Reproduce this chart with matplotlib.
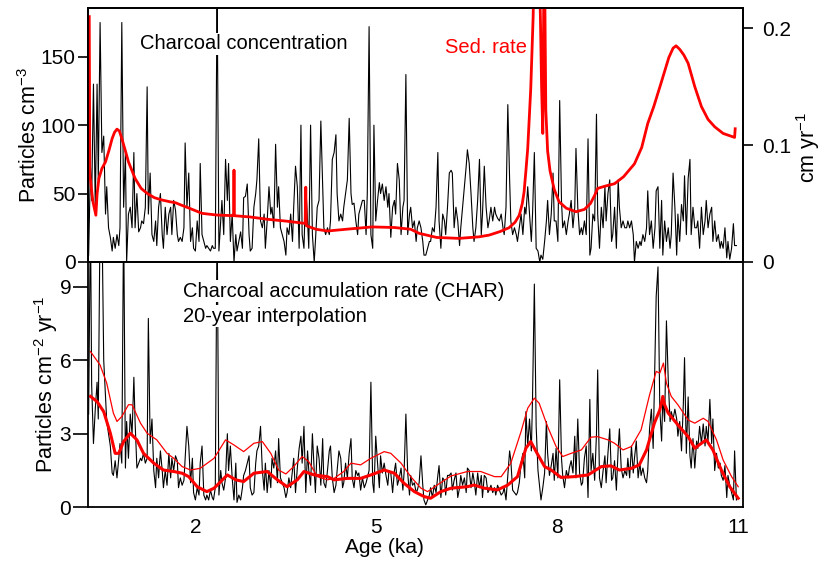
import matplotlib
matplotlib.use("Agg")
import matplotlib.pyplot as plt

plt.rcParams['font.family'] = ['Liberation Sans', 'DejaVu Sans']
plt.rcParams['mathtext.fontset'] = 'custom'
plt.rcParams['mathtext.rm'] = 'Liberation Sans'
plt.rcParams['mathtext.it'] = 'Liberation Sans:italic'
plt.rcParams['mathtext.default'] = 'regular'

# ---------------- data ----------------
age = [
    0.23, 0.26, 0.28, 0.31, 0.34, 0.37, 0.39, 0.42, 0.45, 0.48,
    0.51, 0.53, 0.56, 0.59, 0.62, 0.64, 0.67, 0.70, 0.73, 0.75,
    0.78, 0.81, 0.84, 0.86, 0.89, 0.92, 0.95, 0.98, 1.00, 1.03,
    1.06, 1.09, 1.11, 1.14, 1.17, 1.20, 1.22, 1.25, 1.28, 1.31,
    1.34, 1.36, 1.39, 1.42, 1.45, 1.47, 1.50, 1.53, 1.56, 1.59,
    1.61, 1.64, 1.67, 1.70, 1.72, 1.75, 1.78, 1.81, 1.83, 1.86,
    1.89, 1.92, 1.95, 1.97, 2.00, 2.03, 2.06, 2.08, 2.11, 2.14,
    2.17, 2.19, 2.22, 2.25, 2.28, 2.30, 2.33, 2.36, 2.39, 2.42,
    2.44, 2.47, 2.50, 2.53, 2.55, 2.58, 2.61, 2.64, 2.67, 2.69,
    2.72, 2.75, 2.78, 2.80, 2.83, 2.86, 2.89, 2.91, 2.94, 2.97,
    3.00, 3.02, 3.05, 3.08, 3.11, 3.14, 3.16, 3.19, 3.22, 3.25,
    3.27, 3.30, 3.33, 3.36, 3.38, 3.41, 3.44, 3.47, 3.50, 3.52,
    3.55, 3.58, 3.61, 3.63, 3.66, 3.69, 3.72, 3.75, 3.77, 3.80,
    3.83, 3.86, 3.88, 3.91, 3.94, 3.97, 3.99, 4.02, 4.05, 4.08,
    4.11, 4.13, 4.16, 4.19, 4.22, 4.24, 4.27, 4.30, 4.33, 4.35,
    4.38, 4.41, 4.44, 4.46, 4.49, 4.52, 4.55, 4.58, 4.60, 4.63,
    4.66, 4.69, 4.71, 4.74, 4.77, 4.80, 4.83, 4.85, 4.88, 4.91,
    4.94, 4.96, 4.99, 5.02, 5.05, 5.07, 5.10, 5.13, 5.16, 5.19,
    5.21, 5.24, 5.27, 5.30, 5.32, 5.35, 5.38, 5.41, 5.44, 5.46,
    5.49, 5.52, 5.55, 5.57, 5.60, 5.63, 5.66, 5.68, 5.71, 5.74,
    5.77, 5.79, 5.82, 5.85, 5.88, 5.90, 5.93, 5.96, 5.99, 6.02,
    6.04, 6.07, 6.10, 6.13, 6.15, 6.18, 6.21, 6.24, 6.26, 6.29,
    6.32, 6.35, 6.38, 6.40, 6.43, 6.46, 6.49, 6.51, 6.54, 6.57,
    6.60, 6.62, 6.65, 6.68, 6.71, 6.74, 6.76, 6.79, 6.82, 6.85,
    6.87, 6.90, 6.93, 6.96, 6.98, 7.01, 7.04, 7.07, 7.10, 7.12,
    7.15, 7.18, 7.21, 7.23, 7.26, 7.29, 7.32, 7.34, 7.37, 7.40,
    7.43, 7.46, 7.48, 7.51, 7.54, 7.57, 7.59, 7.62, 7.65, 7.68,
    7.71, 7.73, 7.76, 7.79, 7.82, 7.84, 7.87, 7.90, 7.93, 7.95,
    7.98, 8.01, 8.04, 8.07, 8.09, 8.12, 8.15, 8.18, 8.20, 8.23,
    8.26, 8.29, 8.31, 8.34, 8.37, 8.40, 8.42, 8.45, 8.48, 8.51,
    8.54, 8.56, 8.59, 8.62, 8.65, 8.67, 8.70, 8.73, 8.76, 8.79,
    8.81, 8.84, 8.87, 8.90, 8.92, 8.95, 8.98, 9.01, 9.03, 9.06,
    9.09, 9.12, 9.15, 9.17, 9.20, 9.23, 9.26, 9.28, 9.31, 9.34,
    9.37, 9.39, 9.42, 9.45, 9.48, 9.50, 9.53, 9.56, 9.59, 9.62,
    9.64, 9.67, 9.70, 9.73, 9.75, 9.78, 9.81, 9.84, 9.87, 9.89,
    9.92, 9.95, 9.98, 10.00, 10.03, 10.06, 10.09, 10.11, 10.14, 10.17,
    10.20, 10.22, 10.25, 10.28, 10.31, 10.33, 10.36, 10.39, 10.42, 10.45,
    10.47, 10.50, 10.53, 10.56, 10.58, 10.61, 10.64, 10.67, 10.70, 10.72,
    10.75, 10.78, 10.81, 10.83, 10.86, 10.89, 10.92, 10.94, 10.97,
]

# charcoal concentration (particles cm-3)
concentration = [
    5, 70, 45, 130, 40, 130, 60, 175, 80, 92,
    35, 55, 25, 18, 8, 18, 10, 20, 12, 25,
    175, 40, 80, 0, 35, 40, 25, 80, 25, 50,
    22, 25, 30, 28, 40, 128, 35, 65, 20, 15,
    30, 12, 40, 50, 20, 10, 40, 20, 35, 40,
    20, 45, 38, 20, 15, 18, 15, 25, 87, 40,
    65, 15, 25, 10, 8, 30, 15, 72, 20, 15,
    10, 12, 10, 8, 12, 10, 10, 200, 8, 30,
    45, 20, 75, 45, 72, 15, 35, 0, 20, 8,
    15, 22, 10, 47, 48, 57, 20, 8, 10, 40,
    50, 60, 90, 30, 25, 35, 10, 30, 55, 35,
    40, 25, 86, 40, 55, 25, 20, 15, 5, 25,
    20, 35, 15, 40, 70, 55, 10, 100, 20, 10,
    55, 30, 10, 100, 20, 0, 15, 40, 45, 103,
    55, 25, 20, 25, 20, 30, 75, 80, 93, 50,
    30, 35, 30, 40, 50, 60, 105, 50, 42, 43,
    30, 20, 35, 40, 45, 45, 20, 50, 172, 20,
    10, 100, 30, 45, 58, 50, 57, 45, 55, 40,
    50, 18, 40, 45, 35, 72, 60, 20, 40, 45,
    137, 20, 35, 40, 25, 30, 15,
    25, 30, 25, 15, 5, 5, 10, 15, 15, 25,
    22, 40, 80, 30, 10, 35, 30, 20, 40, 65,
    67, 65, 25, 40, 30, 12, 25, 40, 55, 70,
    82, 72, 50, 25, 15, 25, 45, 75, 20, 35,
    70, 40, 25, 30, 40, 30, 40, 35, 32, 30,
    35, 25, 20, 40, 115, 60, 30, 20, 25, 20,
    15, 25, 35, 20, 40, 35, 55, 35, 15, 35,
    80, 10, 8, 0, 5, 2, 15, 30, 45, 20,
    35, 65, 30, 30, 15, 118, 45, 25, 30, 20,
    30, 35, 45, 25, 40, 83, 40, 20, 25, 20,
    30, 20, 90, 5, 10, 35, 30, 108, 35, 10,
    40, 25, 55, 30, 50, 60, 15, 20, 40, 10,
    60, 40, 25, 30, 25, 25, 30, 25, 30, 20,
    0, 15, 10, 15, 12, 20, 15, 25, 52, 20,
    30, 10, 25, 52, 55, 10, 45, 5, 30, 15,
    25, 10, 20, 65, 40, 5, 35, 15, 42, 30,
    63, 20, 61, 75, 20, 40, 25, 25, 30, 10,
    40, 20, 30, 45, 25, 35, 40, 15, 30, 15,
    20, 10, 15, 10, 25, 3, 15, 2, 10, 28,
    12, 12,
]

# charcoal accumulation rate (particles cm-2 yr-1)
char = [
    3.8, 12, 5, 2.6, 4, 5.1, 3.6, 12, 12, 6,
    4.5, 3.5, 3, 2.5, 1.4, 1.3, 1.9, 1.2, 2, 2.6,
    1.8, 12, 1.6, 3.5, 2, 3.8, 3, 5.3, 3.5, 1.6,
    1.8, 2, 1.9, 2.2, 1.8, 2, 7.7, 2.6, 3.6, 1.5,
    0.8, 2, 1.2, 2.3, 1.5, 0.8, 1.5, 0.9, 2.2, 1.2,
    2, 1.5, 2.1, 1.9, 0.8, 1.2, 0.9, 1.1, 2, 3.3,
    2.5, 1, 2, 0.6, 0.3, 0.8, 0.5, 1.8, 2.5, 0.5,
    0.3, 0.5, 0.3, 0.7, 0.4, 0.3, 0.8, 12, 0.5, 1.5,
    1, 0.7, 1.2, 3, 1.5, 2.5, 1.2, 0.3, 1.8, 0.2,
    0.5, 0.3, 0.8, 1.3, 1.5, 1.8, 2.1, 0.8, 0.5, 0.6,
    1.8, 2.3, 2.5, 3.3, 1.5, 0.7, 1.8, 0.6, 1.5, 0.8,
    2, 1.6, 2.3, 1, 2.8, 1.2, 1, 0.8, 0.4, 0.6,
    1.2, 0.8, 1.5, 2, 0.6, 1.6, 2.4, 2.9, 1.8, 3.3,
    0.6, 2.3, 1.5, 0.9, 3, 1.5, 0.6, 2.5, 2, 0.9,
    2.8, 1, 0.8, 1.5, 2.3, 2.5, 1.2, 0.6, 0.9, 1.5,
    2.3, 2, 0.8, 1, 1.8, 1.2, 2.2, 2.8, 1.2, 0.8,
    1.5, 1.3, 1.4, 0.7, 1.2, 0.8, 1, 1.2, 1.5, 5.1,
    1, 0.6, 2.9, 1.8, 0.8, 2.1, 1.4, 1.8, 1.3, 0.9,
    1.5, 1.4, 0.6, 1.5, 1.8, 0.9, 1.2, 1.6, 0.7, 1.4,
    3.8, 1.4, 0.5, 1.3, 0.9, 1, 0.6,
    0.7, 1, 2.1, 0.9, 0.3, 0.1, 0.3, 0.5, 0.8, 0.4,
    0.9, 0.6, 1.3, 1.7, 0.4, 1.2, 1.1, 0.5, 1.3, 1.3,
    1.4, 0.7, 1.1, 1.4, 0.4, 0.8, 1.3, 0.9, 1.2, 0.6,
    1.6, 1.5, 0.8, 1.4, 1.1, 0.5, 1.4, 0.8, 1.3, 0.4,
    1.3, 1.2, 0.6, 0.7, 0.9, 0.6, 0.8, 0.5, 0.9, 0.7,
    0.5, 0.6, 0.8, 0.3, 1.3, 2.3, 1.9, 0.7, 0.6, 0.5,
    0.6, 1, 1.8, 2.2, 1.2, 3.9, 2.5, 3.6, 2.3, 4.5,
    9.1, 3.3, 1.5, 0.8, 0.3, 0.8, 1.4, 3.5, 2.2, 1.3,
    1.7, 2.2, 1.1, 2.4, 1.2, 5.2, 2, 1.3, 0.8, 1.5,
    1.2, 1.6, 1.9, 1.4, 2.9, 1.2, 3.6, 1.4, 0.9, 1,
    2, 2.5, 0.4, 4.4, 1.5, 2.2, 1.1, 3, 5.6, 1.2,
    0.8, 1.5, 2.1, 1, 2.2, 3.2, 1.1, 1.2, 1.9, 0.7,
    2.4, 3.2, 1.6, 1.2, 1.5, 1.3, 2, 1.2, 2.5, 1.4,
    2, 2.7, 1.2, 1.8, 1.3, 1.6, 1.2, 1, 1.5, 3.2,
    4, 2.4, 6.2, 8.6, 9.8, 4, 2.7, 4.5, 3.5, 7.6,
    5.2, 3.5, 3.9, 3.6, 4, 3.6, 2.9, 3.5, 2.3, 4.2,
    6.1, 2.2, 4.5, 2.1, 1.6, 2.8, 1.6, 2.7, 2.4, 3.3,
    2.6, 3.4, 2.5, 3.3, 2.7, 4.4, 2.6, 3.6, 1.5, 2.2,
    1.6, 1.8, 1.3, 1.1, 1.7, 0.4, 1.3, 0.9, 0.6, 0.3,
    2.3, 0.3,
]

# sedimentation rate (cm yr-1)
sed_age = [0.24, 0.25, 0.30, 0.35, 0.37, 0.40, 0.45, 0.51, 0.57, 0.62,
           0.66, 0.70, 0.74, 0.78, 0.84, 0.89, 1.00, 1.10, 1.20, 1.32,
           1.45, 1.58, 1.67, 1.75, 1.90, 2.11, 2.35, 2.635, 2.64, 2.645,
           2.91, 3.20, 3.50, 3.82, 3.83, 3.84, 4.00, 4.19, 4.50, 4.93,
           5.30, 5.57, 5.71, 6.00, 6.37, 6.70, 6.87, 7.05, 7.20, 7.30,
           7.37, 7.42, 7.45, 7.48, 7.51, 7.56, 7.60, 7.63, 7.68, 7.72,
           7.74, 7.76, 7.775, 7.785, 7.795, 7.81, 7.84, 7.88, 7.95, 8.03,
           8.15, 8.31, 8.45, 8.55, 8.62, 8.67, 8.80, 8.95, 9.10, 9.28,
           9.40, 9.50, 9.60, 9.72, 9.85, 9.92, 9.97, 10.03, 10.10, 10.17,
           10.28, 10.39, 10.50, 10.61, 10.75, 10.94, 10.95]
sed_rate = [0.210, 0.075, 0.052, 0.040, 0.058, 0.0715, 0.080, 0.0857, 0.096, 0.1057,
            0.111, 0.1137, 0.112, 0.1057, 0.095, 0.0857, 0.0715, 0.063, 0.0587, 0.055,
            0.053, 0.0515, 0.0507, 0.049, 0.046, 0.0416, 0.0402, 0.0396, 0.0786, 0.0396,
            0.0385, 0.0365, 0.035, 0.033, 0.064, 0.031, 0.028, 0.0265, 0.028, 0.030,
            0.0295, 0.028, 0.0245, 0.021, 0.0202, 0.0215, 0.023, 0.026, 0.0293, 0.034,
            0.040, 0.050, 0.060, 0.078, 0.097, 0.148, 0.21, 0.30, 0.30, 0.21,
            0.15, 0.11, 0.22, 0.30, 0.22, 0.13, 0.095, 0.078, 0.062, 0.0515,
            0.046, 0.043, 0.045, 0.050, 0.057, 0.063, 0.065, 0.067, 0.073, 0.084,
            0.098, 0.1185, 0.133, 0.153, 0.175, 0.183, 0.185, 0.182, 0.177, 0.170,
            0.150, 0.133, 0.122, 0.1157, 0.110, 0.1066, 0.114]

# CHAR smoothed curves
thin_age = [0.26, 0.42, 0.53, 0.64, 0.70, 0.78, 0.89, 0.95, 1.09, 1.20,
            1.36, 1.53, 1.64, 1.78, 1.92, 2.08, 2.31, 2.50, 2.64, 2.80,
            2.97, 3.11, 3.25, 3.38, 3.50, 3.63, 3.77, 3.88, 4.02, 4.19,
            4.30, 4.46, 4.58, 4.74, 4.91, 5.13, 5.24, 5.41, 5.57, 5.74,
            5.85, 6.01, 6.24, 6.51, 6.73, 6.96, 7.07, 7.23, 7.40, 7.51,
            7.62, 7.70, 7.84, 7.98, 8.09, 8.23, 8.40, 8.56, 8.67, 8.84,
            8.95, 9.09, 9.23, 9.39, 9.53, 9.64, 9.70, 9.76, 9.81, 9.89,
            10.00, 10.17, 10.28, 10.42, 10.50, 10.64, 10.75, 10.89, 11.00]
thin_val = [6.35, 5.8, 5.06, 3.84, 3.5, 3.7, 4.18, 4.18, 3.43, 3.02,
            2.75, 2.2, 2.0, 1.66, 1.52, 1.59, 2.0, 2.75, 2.54, 2.27,
            2.61, 2.68, 2.2, 1.52, 1.36, 1.66, 2.07, 1.86, 1.25, 1.12,
            1.18, 1.46, 1.8, 1.73, 2.0, 2.27, 2.2, 1.8, 1.25, 0.78,
            0.64, 0.91, 1.28, 1.46, 1.46, 1.25, 1.25, 1.8, 3.09, 4.04,
            4.45, 4.24, 3.29, 2.48, 2.07, 2.2, 2.34, 2.86, 2.88, 2.75,
            2.61, 2.34, 2.48, 3.16, 4.58, 5.54, 5.47, 5.88, 5.06, 4.52,
            4.18, 3.56, 3.43, 3.63, 3.5, 2.75, 1.93, 1.25, 0.84]

thick_age = [0.26, 0.37, 0.48, 0.59, 0.67, 0.73, 0.81, 0.92, 1.03, 1.14,
             1.31, 1.47, 1.64, 1.78, 1.89, 2.03, 2.19, 2.31, 2.53, 2.67,
             2.80, 2.97, 3.19, 3.36, 3.52, 3.69, 3.80, 3.97, 4.19, 4.30,
             4.52, 4.74, 4.91, 5.13, 5.30, 5.46, 5.63, 5.79, 5.90, 6.07,
             6.24, 6.51, 6.62, 6.79, 7.01, 7.18, 7.34, 7.48, 7.56, 7.65,
             7.79, 7.90, 8.06, 8.28, 8.51, 8.73, 8.89, 9.03, 9.23, 9.36,
             9.48, 9.61, 9.70, 9.75, 9.78, 9.84, 10.00, 10.17, 10.28, 10.39,
             10.47, 10.58, 10.72, 10.86, 11.00]
thick_val = [4.52, 4.31, 3.9, 3.02, 2.2, 2.2, 2.68, 3.02, 2.75, 2.2,
             1.8, 1.52, 1.46, 1.39, 1.25, 0.84, 0.64, 0.78, 1.32, 1.12,
             1.05, 1.39, 1.46, 1.12, 0.84, 1.12, 1.46, 1.32, 1.25, 1.12,
             1.18, 1.18, 1.32, 1.52, 1.39, 0.98, 0.64, 0.44, 0.37, 0.64,
             0.78, 0.84, 0.91, 0.78, 0.71, 0.91, 1.25, 2.41, 2.68, 2.27,
             1.66, 1.52, 1.22, 1.25, 1.32, 1.66, 1.69, 1.52, 1.59, 1.73,
             2.34, 3.43, 3.97, 4.52, 4.18, 3.84, 3.36, 2.88, 2.41, 2.61,
             2.75, 2.34, 1.52, 0.84, 0.37]

top_yticks = [0, 50, 100, 150]
sed_yticks = [0, 0.1, 0.2]
sed_yticklabels = ['0', '0.1', '0.2']
bot_yticks = [0, 3, 6, 9]
xticks = [2, 5, 8, 11]

# ---------------- figure ----------------
fig = plt.figure(figsize=(8.36, 5.64), dpi=100)
L, W = 0.1053, 0.7835
ax1 = fig.add_axes([L, 0.5355, W, 0.4498])
ax2 = fig.add_axes([L, 0.1005, W, 0.4350])
XLIM = (0.22, 11.08)

spine_lw = 1.3
for ax in (ax1, ax2):
    for s in ax.spines.values():
        s.set_linewidth(spine_lw)

# top panel
ax1.plot(age, concentration, color='black', lw=0.8)
ax1.set_xlim(*XLIM)
ax1.set_ylim(0, 185.4)
ax1.set_yticks(top_yticks)
ax1.tick_params(axis='y', direction='out', length=7.5, width=1.2,
                labelsize=15, pad=1.5)
ax1.tick_params(axis='x', bottom=False, labelbottom=False)
ax1.set_ylabel('Particles cm$^{-3}$', fontsize=15.5)
ax1.yaxis.set_label_coords(-0.072, 0.5)
ax1.text(0.079, 0.839, 'Charcoal concentration', transform=ax1.transAxes,
         fontsize=14.5, va='baseline', ha='left',
         bbox=dict(facecolor='white', edgecolor='none', pad=1))

ax1r = ax1.twinx()
ax1r.plot(sed_age, sed_rate, color='#ff0000', lw=2.0)
ax1r.set_ylim(0, 0.2171)
ax1r.set_xlim(*XLIM)
ax1r.set_yticks(sed_yticks)
ax1r.set_yticklabels(sed_yticklabels)
ax1r.tick_params(axis='y', direction='out', length=7.5, width=1.2,
                 labelsize=15, pad=6)
for s in ax1r.spines.values():
    s.set_linewidth(spine_lw)
ax1r.set_ylabel('cm yr$^{-1}$', fontsize=15.5)
ax1r.yaxis.set_label_coords(1.078, 0.45)
ax1r.text(0.545, 0.823, 'Sed. rate', transform=ax1r.transAxes,
          fontsize=14.5, color='#ff0000', va='baseline', ha='left')

# bottom panel
ax2.plot(age, char, color='black', lw=0.8)
ax2.plot(thin_age, thin_val, color='#ff0000', lw=0.9)
ax2.plot(thick_age, thick_val, color='#ff0000', lw=2.2)
ax2.set_xlim(*XLIM)
ax2.set_ylim(0, 10.0)
ax2.set_yticks(bot_yticks)
ax2.set_xticks(xticks)
ax2.tick_params(axis='y', direction='out', length=10.5, width=1.2,
                labelsize=15, pad=1.5)
ax2.tick_params(axis='x', length=0, labelsize=15, pad=8)
ax2.set_ylabel('Particles cm$^{-2}$ yr$^{-1}$', fontsize=15.5)
ax2.yaxis.set_label_coords(-0.043, 0.5)
ax2.set_xlabel('Age (ka)', fontsize=15)
ax2.xaxis.set_label_coords(0.453, -0.125)
ax2.text(0.145, 0.859, 'Charcoal accumulation rate (CHAR)',
         transform=ax2.transAxes, fontsize=14.5, va='baseline', ha='left',
         bbox=dict(facecolor='white', edgecolor='none', pad=1))
ax2.text(0.145, 0.757, '20-year interpolation',
         transform=ax2.transAxes, fontsize=14.5, va='baseline', ha='left',
         bbox=dict(facecolor='white', edgecolor='none', pad=1))

fig.savefig('out.png', dpi=100)
